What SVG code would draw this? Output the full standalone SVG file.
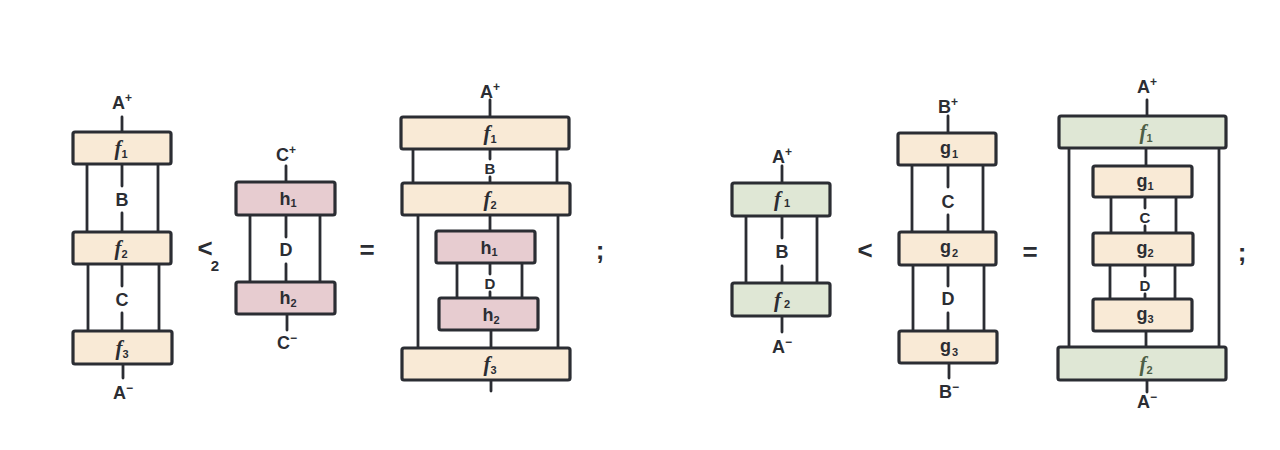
<svg xmlns="http://www.w3.org/2000/svg" width="1280" height="450" viewBox="0 0 1280 450">
<style>
.bg{fill:#ffffff}
rect.box{stroke:#2b2d33;stroke-width:3.2;rx:2}
.c{fill:#f9ead6}.p{fill:#e7ccd0}.g{fill:#dfe7d5}
#wires line{stroke:#2b2d33;stroke-width:2.8;stroke-linecap:round}
text{font-family:"Liberation Sans",Arial,sans-serif;font-weight:700;fill:#2b2d33;text-anchor:middle}
.lbl{font-size:18px}
.sm{font-size:15px}
.bx{font-size:18px}
.fx{font-family:"Liberation Serif","Times New Roman",serif;font-style:italic;font-size:21px}
.sub{font-family:"Liberation Sans",Arial,sans-serif;font-style:normal;font-size:11px}
.sup{font-size:12px}
.op{font-size:26px}
.gt{fill:#4d5e45}
</style>
<rect class="bg" x="0" y="0" width="1280" height="450"/>

<g id="wires">
<line x1="122" y1="117" x2="122" y2="132"/>
<line x1="87" y1="164" x2="87" y2="232"/><line x1="158" y1="164" x2="158" y2="232"/>
<line x1="122" y1="164" x2="122" y2="186"/><line x1="122" y1="213" x2="122" y2="232"/>
<line x1="88" y1="264" x2="88" y2="331"/><line x1="159" y1="264" x2="159" y2="331"/>
<line x1="122" y1="264" x2="122" y2="286"/><line x1="122" y1="313" x2="122" y2="331"/>
<line x1="123" y1="364" x2="123" y2="378"/>
<line x1="286" y1="166" x2="286" y2="182"/>
<line x1="250" y1="215" x2="250" y2="282"/><line x1="320" y1="215" x2="320" y2="282"/>
<line x1="286" y1="215" x2="286" y2="237"/><line x1="286" y1="264" x2="286" y2="282"/>
<line x1="287" y1="314" x2="287" y2="330"/>
<line x1="490" y1="100" x2="490" y2="117"/>
<line x1="413" y1="149" x2="413" y2="183"/><line x1="557" y1="149" x2="557" y2="183"/>
<line x1="490" y1="149" x2="490" y2="159"/><line x1="490" y1="177" x2="490" y2="183"/>
<line x1="418" y1="215" x2="418" y2="348"/><line x1="558" y1="215" x2="558" y2="348"/>
<line x1="490" y1="215" x2="490" y2="231"/>
<line x1="457" y1="263" x2="457" y2="298"/><line x1="522" y1="263" x2="522" y2="298"/>
<line x1="490" y1="263" x2="490" y2="274"/><line x1="490" y1="292" x2="490" y2="298"/>
<line x1="491" y1="330" x2="491" y2="348"/>
<line x1="491" y1="380" x2="491" y2="391"/>
<line x1="782" y1="166" x2="782" y2="183"/>
<line x1="746" y1="216" x2="746" y2="283"/><line x1="817" y1="216" x2="817" y2="283"/>
<line x1="782" y1="216" x2="782" y2="238"/><line x1="782" y1="266" x2="782" y2="283"/>
<line x1="782" y1="316" x2="782" y2="332"/>
<line x1="948" y1="116" x2="948" y2="133"/>
<line x1="912" y1="165" x2="912" y2="232"/><line x1="983" y1="165" x2="983" y2="232"/>
<line x1="948" y1="165" x2="948" y2="187"/><line x1="948" y1="215" x2="948" y2="232"/>
<line x1="913" y1="265" x2="913" y2="331"/><line x1="984" y1="265" x2="984" y2="331"/>
<line x1="948" y1="265" x2="948" y2="286"/><line x1="948" y1="313" x2="948" y2="331"/>
<line x1="949" y1="363" x2="949" y2="378"/>
<line x1="1147" y1="100" x2="1147" y2="116"/>
<line x1="1069" y1="148" x2="1069" y2="347"/><line x1="1219" y1="148" x2="1219" y2="347"/>
<line x1="1146" y1="148" x2="1146" y2="166"/>
<line x1="1111" y1="197" x2="1111" y2="233"/><line x1="1176" y1="197" x2="1176" y2="233"/>
<line x1="1145" y1="197" x2="1145" y2="208"/><line x1="1145" y1="226" x2="1145" y2="233"/>
<line x1="1110" y1="265" x2="1110" y2="299"/><line x1="1175" y1="265" x2="1175" y2="299"/>
<line x1="1145" y1="265" x2="1145" y2="276"/><line x1="1145" y1="294" x2="1145" y2="299"/>
<line x1="1146" y1="331" x2="1146" y2="347"/>
<line x1="1147" y1="380" x2="1147" y2="392"/>
</g>

<g id="wire-labels">
<text class="lbl" x="122" y="109">A<tspan class="sup" dy="-7">+</tspan></text>
<text class="lbl" x="122" y="206">B</text>
<text class="lbl" x="122" y="306">C</text>
<text class="lbl" x="123" y="399">A<tspan class="sup" dy="-7">−</tspan></text>
<text class="lbl" x="286" y="161">C<tspan class="sup" dy="-7">+</tspan></text>
<text class="lbl" x="286" y="256">D</text>
<text class="lbl" x="287" y="349">C<tspan class="sup" dy="-7">−</tspan></text>
<text class="lbl" x="490" y="98">A<tspan class="sup" dy="-7">+</tspan></text>
<text class="sm" x="490" y="174">B</text>
<text class="sm" x="490" y="289">D</text>
<text class="lbl" x="782" y="163">A<tspan class="sup" dy="-7">+</tspan></text>
<text class="lbl" x="782" y="258">B</text>
<text class="lbl" x="782" y="353">A<tspan class="sup" dy="-7">−</tspan></text>
<text class="lbl" x="948" y="113">B<tspan class="sup" dy="-7">+</tspan></text>
<text class="lbl" x="948" y="208">C</text>
<text class="lbl" x="948" y="305">D</text>
<text class="lbl" x="949" y="398">B<tspan class="sup" dy="-7">−</tspan></text>
<text class="lbl" x="1147" y="93">A<tspan class="sup" dy="-7">+</tspan></text>
<text class="sm" x="1145" y="223">C</text>
<text class="sm" x="1145" y="291">D</text>
<text class="lbl" x="1147" y="408">A<tspan class="sup" dy="-7">−</tspan></text>
</g>

<g id="d1-f1"><rect class="box c" x="73" y="132" width="98" height="32"/><text class="fx" x="121" y="155">f<tspan class="sub" dy="3">1</tspan></text></g>
<g id="d1-f2"><rect class="box c" x="73" y="232" width="98" height="32"/><text class="fx" x="121" y="255">f<tspan class="sub" dy="3">2</tspan></text></g>
<g id="d1-f3"><rect class="box c" x="73" y="331" width="99" height="33"/><text class="fx" x="122" y="355">f<tspan class="sub" dy="3">3</tspan></text></g>

<g id="d2-h1"><rect class="box p" x="236" y="182" width="99" height="33"/><text class="bx" x="288" y="205">h<tspan class="sub" dy="2">1</tspan></text></g>
<g id="d2-h2"><rect class="box p" x="236" y="282" width="99" height="32"/><text class="bx" x="288" y="304">h<tspan class="sub" dy="3">2</tspan></text></g>

<g id="d3-f1"><rect class="box c" x="401" y="117" width="168" height="32"/><text class="fx" x="490" y="140">f<tspan class="sub" dy="3">1</tspan></text></g>
<g id="d3-f2"><rect class="box c" x="402" y="183" width="168" height="32"/><text class="fx" x="490" y="206">f<tspan class="sub" dy="3">2</tspan></text></g>
<g id="d3-h1"><rect class="box p" x="436" y="231" width="99" height="32"/><text class="bx" x="489" y="254">h<tspan class="sub" dy="2">1</tspan></text></g>
<g id="d3-h2"><rect class="box p" x="439" y="298" width="99" height="32"/><text class="bx" x="491" y="321">h<tspan class="sub" dy="3">2</tspan></text></g>
<g id="d3-f3"><rect class="box c" x="402" y="348" width="168" height="32"/><text class="fx" x="490" y="371">f<tspan class="sub" dy="3">3</tspan></text></g>

<g id="d4-f1"><rect class="box g" x="732" y="183" width="98" height="33"/><text class="fx" x="782" y="206">f<tspan class="sub" dx="3" dy="1">1</tspan></text></g>
<g id="d4-f2"><rect class="box g" x="732" y="283" width="98" height="33"/><text class="fx" x="782" y="307">f<tspan class="sub" dx="3" dy="1">2</tspan></text></g>

<g id="d5-g1"><rect class="box c" x="898" y="133" width="98" height="32"/><text class="bx" x="949" y="154">g<tspan class="sub" dx="1" dy="4">1</tspan></text></g>
<g id="d5-g2"><rect class="box c" x="899" y="232" width="97" height="33"/><text class="bx" x="949" y="253">g<tspan class="sub" dx="1" dy="4">2</tspan></text></g>
<g id="d5-g3"><rect class="box c" x="899" y="331" width="98" height="32"/><text class="bx" x="949" y="352">g<tspan class="sub" dx="1" dy="4">3</tspan></text></g>

<g id="d6-f1"><rect class="box g" x="1059" y="116" width="167" height="32"/><text class="fx gt" x="1146" y="139">f<tspan class="sub gt" dy="3">1</tspan></text></g>
<g id="d6-g1"><rect class="box c" x="1093" y="166" width="99" height="31"/><text class="bx" x="1145" y="187">g<tspan class="sub" dy="3">1</tspan></text></g>
<g id="d6-g2"><rect class="box c" x="1093" y="233" width="100" height="32"/><text class="bx" x="1145" y="254">g<tspan class="sub" dy="3">2</tspan></text></g>
<g id="d6-g3"><rect class="box c" x="1093" y="299" width="99" height="32"/><text class="bx" x="1145" y="320">g<tspan class="sub" dy="3">3</tspan></text></g>
<g id="d6-f2"><rect class="box g" x="1058" y="347" width="168" height="33"/><text class="fx gt" x="1146" y="371">f<tspan class="sub gt" dy="3">2</tspan></text></g>

<g id="operators">
<text class="op" x="205" y="257">&lt;</text><text style="font-size:15px" x="215" y="271">2</text>
<text class="op" x="367" y="259">=</text>
<text class="op" x="600" y="259">;</text>
<text class="op" x="865" y="259">&lt;</text>
<text class="op" x="1030" y="261">=</text>
<text class="op" x="1242" y="261">;</text>
</g>
</svg>
